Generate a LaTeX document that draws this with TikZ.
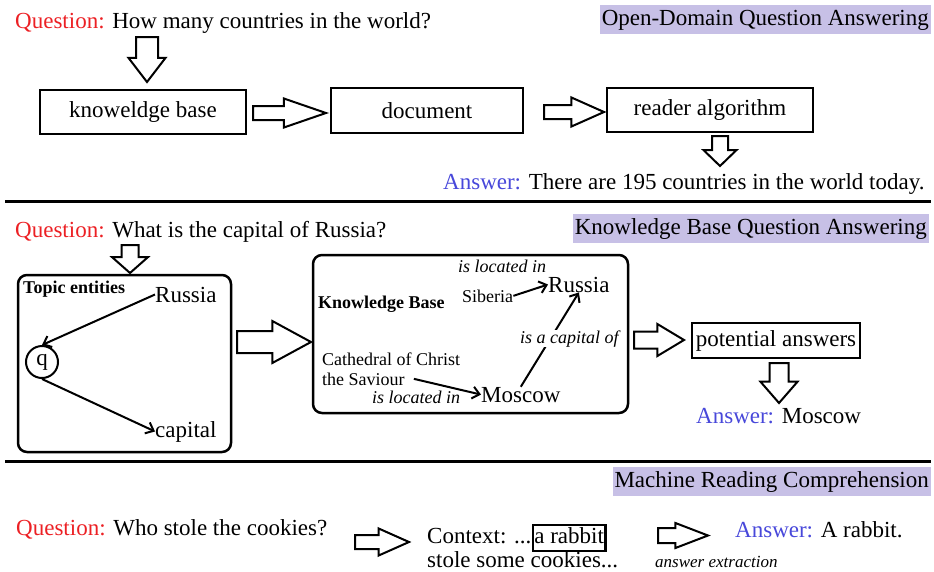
\documentclass[tikz,border=0pt]{standalone}
\usepackage{fontspec}
\setmainfont{Liberation Serif}
\usetikzlibrary{shapes.arrows,arrows.meta}
\definecolor{qred}{RGB}{236,32,36}
\definecolor{ansblue}{RGB}{72,72,218}
\definecolor{titlebg}{RGB}{199,192,230}
\begin{document}
\begin{tikzpicture}[x=1pt,y=-1pt,
  txt/.style={inner sep=0pt,anchor=base west,font=\fontsize{23}{27}\selectfont},
  lbl/.style={inner sep=0pt,anchor=base west,font=\fontsize{18}{21}\selectfont},
  tag/.style={lbl,font=\fontsize{18}{21}\selectfont\bfseries},
  rel/.style={lbl,font=\fontsize{18}{21}\selectfont\itshape},
  title/.style={fill=titlebg,inner xsep=2pt,inner ysep=4pt,text height=16pt,text depth=5pt,
    anchor=north east,font=\fontsize{23}{27}\selectfont},
  box/.style={draw,line width=2.5pt,font=\fontsize{23}{27}\selectfont},
  panel/.style={draw,line width=2.5pt,rounded corners=9pt},
  link/.style={line width=2pt,-{Straight Barb[length=7pt,width=12pt]}},
  barrow/.style n args={5}{single arrow,draw,fill=white,line width=2pt,inner sep=#1,
    single arrow head extend=#2,single arrow tip angle=#3,minimum height=#4,
    shape border rotate=#5,anchor=tail}]
\useasboundingbox (0,0) rectangle (934,571);

\node[txt] (q1) at (15,28) {\textcolor{qred}{Question:} How many countries in the world?};
\node[title] (t1) at (931,5) {Open-Domain Question Answering};
\node[barrow={10pt}{7.5pt}{75}{45pt}{270}] (a1) at (147,36) {};
\node[box,minimum width=206pt,minimum height=44pt] (kb) at (143,112) {knoweldge base};
\node[barrow={6pt}{7.5pt}{38}{73pt}{0}] (a2) at (252,113) {};
\node[box,minimum width=192pt,minimum height=45pt] (doc) at (427,110.5) {document};
\node[barrow={6pt}{7.5pt}{48}{60pt}{0}] (a3) at (543,112) {};
\node[box,minimum width=206pt,minimum height=44pt] (read) at (710,110) {reader algorithm};
\node[barrow={7pt}{8.5pt}{92}{30pt}{270}] (a4) at (720,135) {};
\node[txt] (ans1) at (443,189) {\textcolor{ansblue}{Answer:} There are 195 countries in the world today.};
\draw[line width=3pt] (5,201) -- (931,201);

\node[txt] (q2) at (15,237) {\textcolor{qred}{Question:} What is the capital of Russia?};
\node[title] (t2) at (929,214) {Knowledge Base Question Answering};
\node[barrow={7.5pt}{9.5pt}{97}{28pt}{270}] (a5) at (130,244) {};
\node[panel,minimum width=213pt,minimum height=177pt] (topic) at (124.5,363.5) {};
\node[tag] (tl) at (23,293) {Topic entities};
\node[txt] (rus1) at (155,302) {Russia};
\node[circle,draw,line width=2pt,minimum size=32pt,inner sep=0pt,font=\fontsize{23}{27}\selectfont] (q) at (42,362) {q};
\node[txt] (cap) at (155,437) {capital};
\draw[link] (rus1.west) -- (q.north);
\draw[link] (q.south) -- (cap.west);
\node[barrow={10pt}{10pt}{57}{74pt}{0}] (a6) at (236,342) {};
\node[panel,minimum width=315pt,minimum height=158pt] (kbase) at (470.5,334) {};
\node[tag] (kbl) at (318,308) {Knowledge Base};
\node[rel] (loc1) at (458,272) {is located in};
\node[lbl] (sib) at (462,302) {Siberia};
\node[txt] (rus2) at (548,292) {Russia};
\node[lbl] (cath) at (322,365) {Cathedral of Christ};
\node[lbl] (sav) at (322,385) {the Saviour};
\node[rel] (loc2) at (372,403) {is located in};
\node[txt] (mos) at (481,402) {Moscow};
\draw[link] (sib.east) -- (rus2.west);
\draw[link] ([xshift=9pt]sav.east) -- (mos.west);
\draw[link] (mos.north) -- (rus2.south);
\node[rel,fill=white] (capof) at (520,343) {is a capital of};
\node[barrow={7.5pt}{7.5pt}{62}{50pt}{0}] (a7) at (633,340) {};
\node[box,inner xsep=4pt,minimum height=35pt] (pot) at (776,340.5) {potential answers};
\node[barrow={8.5pt}{9pt}{82}{40pt}{270}] (a8) at (779,362) {};
\node[txt] (ans2) at (696,423) {\textcolor{ansblue}{Answer:} Moscow};
\draw[line width=3pt] (5,461) -- (931,461);

\node[title] (t3) at (931,467) {Machine Reading Comprehension};
\node[txt] (q3) at (16,535) {\textcolor{qred}{Question:} Who stole the cookies?};
\node[barrow={6pt}{6.5pt}{48}{54pt}{0}] (a9) at (354,542) {};
\node[txt] (ctx) at (427,543) {Context: ...};
\node[box,anchor=base west,inner xsep=1.5pt,inner ysep=2pt,text depth=6pt] (rab) at (ctx.base east) {a rabbit};
\node[txt] (ctx2) at (427,567) {stole some cookies...};
\node[barrow={6.5pt}{5pt}{42}{50pt}{0}] (a10) at (657,535.5) {};
\node[txt] (ans3) at (735,537) {\textcolor{ansblue}{Answer:} A rabbit.};
\node[rel,font=\fontsize{17}{20}\selectfont\itshape] (ext) at (655,567) {answer extraction};
\end{tikzpicture}
\end{document}
